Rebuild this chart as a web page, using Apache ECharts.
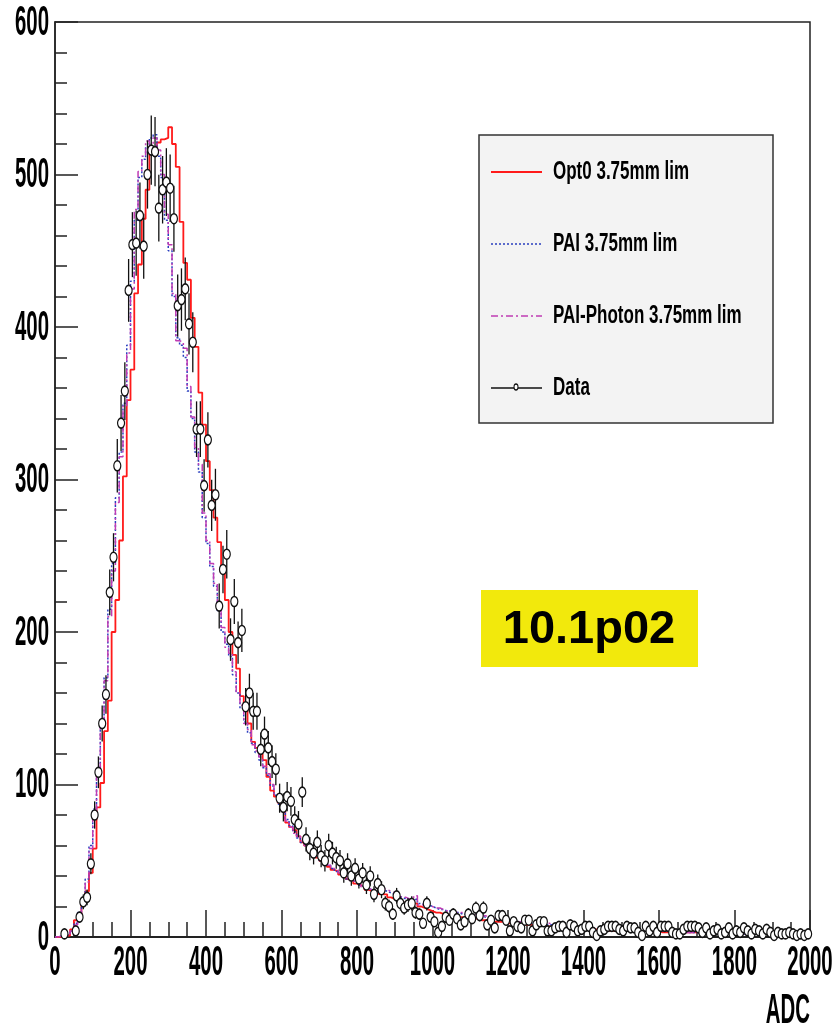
<!DOCTYPE html>
<html>
<head>
<meta charset="utf-8">
<script src="https://cdn.jsdelivr.net/npm/echarts@6/dist/echarts.min.js"></script>
<style>
    html, body { margin: 0; padding: 0; background: #fff; }
    #chart { width: 838px; height: 1028px; }
</style>
</head>
<body>
<div id="chart"></div>
<script>
// ADC histograms, 200 bins of 10 from 0 to 2000
const binWidth = 10;

const opt0 = [
    0, 0, 1, 1, 5, 11, 14, 22, 30, 42,
    58, 85, 101, 135, 155, 200, 221, 260, 302, 352,
    372, 422, 441, 471, 490, 514, 517, 521, 523, 524,
    531, 520, 505, 469, 442, 431, 406, 387, 357, 336,
    312, 293, 275, 259, 241, 221, 200, 185, 176, 158,
    150, 140, 128, 124, 120, 116, 105, 96, 92, 88,
    85, 75, 72, 70, 66, 62, 60, 57, 55, 52,
    50, 48, 46, 44, 43, 41, 40, 38, 37, 35,
    34, 33, 31, 30, 29, 28, 30, 28, 26, 25,
    24, 23, 22, 21, 20, 22, 20, 19, 18, 17,
    16, 16, 15, 15, 14, 14, 13, 13, 13, 12,
    12, 12, 11, 11, 11, 10, 10, 10, 10, 9,
    9, 9, 9, 9, 8, 8, 8, 8, 8, 7,
    7, 7, 6, 6, 6, 6, 6, 5, 5, 5,
    5, 5, 5, 5, 4, 4, 4, 4, 4, 4,
    4, 4, 4, 4, 4, 4, 4, 3, 3, 4,
    3, 3, 3, 3, 3, 3, 3, 3, 3, 3,
    3, 3, 3, 2, 3, 2, 2, 3, 2, 2,
    2, 2, 2, 2, 2, 2, 2, 2, 2, 2,
    2, 2, 1, 2, 2, 1, 2, 2, 1, 2
];

const pai = [
    0, 1, 1, 2, 4, 9, 16, 25, 38, 60,
    84, 110, 140, 170, 215, 245, 288, 318, 350, 388,
    430, 470, 498, 510, 518, 524, 526, 512, 498, 470,
    450, 420, 393, 388, 380, 358, 340, 318, 305, 275,
    258, 243, 230, 214, 200, 192, 184, 172, 160, 150,
    141, 134, 127, 121, 116, 111, 106, 99, 93, 87,
    83, 77, 73, 69, 65, 62, 60, 57, 55, 53,
    50, 48, 47, 45, 43, 42, 40, 38, 37, 36,
    34, 33, 32, 31, 30, 29, 31, 30, 29, 28,
    27, 26, 25, 25, 24, 25, 22, 21, 21, 20,
    19, 18, 18, 17, 17, 16, 16, 15, 15, 15,
    14, 14, 14, 13, 13, 12, 12, 11, 11, 11,
    11, 10, 10, 10, 9, 9, 9, 9, 9, 8,
    8, 8, 8, 7, 7, 7, 7, 6, 6, 6,
    6, 6, 5, 5, 5, 5, 5, 5, 5, 5,
    5, 4, 4, 4, 4, 4, 4, 4, 4, 4,
    4, 4, 4, 4, 3, 3, 3, 3, 3, 3,
    3, 3, 3, 3, 3, 3, 2, 2, 3, 2,
    2, 2, 2, 2, 2, 2, 2, 2, 2, 2,
    2, 2, 2, 1, 2, 2, 2, 1, 2, 2
];

const paiPhoton = [
    0, 1, 1, 2, 4, 8, 15, 24, 36, 58,
    81, 108, 138, 168, 210, 240, 285, 315, 348, 383,
    425, 477, 502, 512, 522, 520, 524, 516, 500, 474,
    454, 422, 391, 390, 386, 361, 341, 321, 310, 278,
    260, 245, 232, 215, 203, 190, 186, 174, 160, 152,
    140, 136, 126, 122, 118, 112, 107, 100, 94, 88,
    84, 76, 72, 68, 66, 63, 60, 58, 55, 53,
    51, 49, 47, 45, 44, 42, 40, 39, 37, 36,
    35, 33, 32, 31, 30, 29, 32, 31, 30, 29,
    27, 26, 26, 25, 25, 27, 21, 21, 21, 20,
    19, 19, 18, 17, 17, 16, 16, 16, 15, 15,
    15, 14, 14, 14, 13, 13, 12, 11, 11, 11,
    11, 10, 10, 10, 10, 9, 9, 9, 9, 9,
    9, 8, 8, 8, 7, 7, 7, 7, 6, 6,
    6, 6, 6, 5, 5, 5, 5, 5, 5, 5,
    5, 5, 4, 4, 4, 4, 4, 4, 4, 4,
    4, 4, 4, 4, 4, 4, 3, 3, 3, 3,
    3, 3, 3, 3, 3, 3, 3, 2, 3, 2,
    2, 2, 2, 2, 2, 2, 2, 2, 2, 2,
    2, 2, 2, 2, 1, 2, 2, 1, 2, 2
];

const dataCounts = [
    0, 0, 2, 0, 0, 4, 13, 23, 26, 48,
    80, 108, 140, 159, 226, 249, 309, 337, 358, 424,
    454, 455, 473, 453, 500, 516, 515, 478, 490, 495,
    491, 471, 414, 418, 425, 402, 390, 333, 333, 296,
    326, 283, 290, 217, 241, 251, 195, 220, 193, 201,
    151, 160, 148, 148, 123, 133, 124, 115, 110, 91,
    85, 92, 89, 77, 74, 95, 64, 58, 55, 62,
    53, 50, 60, 55, 52, 50, 42, 48, 40, 45,
    38, 42, 34, 40, 28, 35, 31, 22, 20, 15,
    27, 22, 19, 21, 22, 16, 15, 9, 22, 13,
    10, 3, 7, 13, 11, 15, 12, 8, 10, 15,
    12, 19, 14, 19, 8, 11, 6, 14, 14, 11,
    4, 10, 7, 6, 11, 11, 4, 8, 10, 10,
    4, 4, 6, 7, 7, 3, 8, 7, 4, 5,
    7, 7, 3, 1, 4, 5, 7, 7, 7, 5,
    4, 7, 6, 6, 3, 1, 7, 4, 7, 3,
    7, 7, 7, 3, 2, 2, 5, 7, 7, 7,
    6, 3, 6, 2, 4, 5, 2, 3, 6, 2,
    4, 3, 6, 4, 2, 5, 4, 2, 5, 3,
    1, 3, 2, 2, 3, 2, 1, 2, 1, 2
];

const xTicks = [0, 200, 400, 600, 800, 1000, 1200, 1400, 1600, 1800, 2000];
const yTicks = [0, 100, 200, 300, 400, 500, 600];
const legendNames = ['Opt0 3.75mm lim', 'PAI 3.75mm lim', 'PAI-Photon 3.75mm lim', 'Data'];
const xTitle = 'ADC';
const versionTag = '10.1p02';

const colors = { opt0: '#ff1a1a', pai: '#2a3fbf', paiPhoton: '#c03cb4', data: '#111111' };
const dashes = { opt0: 'solid', pai: [2, 2], paiPhoton: [7, 3, 2, 3] };

// histogram as step line: left bin edges + closing right edge
function toSteps(values) {
    const pts = values.map((v, i) => [i * binWidth, v]);
    pts.push([values.length * binWidth, values[values.length - 1]]);
    return pts;
}

const chart = echarts.init(document.getElementById('chart'));

const histSeries = (name, values, key, width) => ({
    name: name,
    type: 'line',
    step: 'end',
    data: toSteps(values),
    symbol: 'none',
    silent: true,
    lineStyle: { color: colors[key], width: width, type: dashes[key] },
    z: 2
});

const points = dataCounts.map((v, i) => [i * binWidth + binWidth / 2, v]).filter(p => p[1] > 0);

const option = {
    animation: false,
    backgroundColor: '#fff',
    grid: { left: 55, right: 28, top: 22, bottom: 91, show: true, borderColor: '#222', borderWidth: 1.5 },
    xAxis: {
        type: 'value', min: 0, max: 2000, interval: 200,
        axisLine: { show: true, onZero: false, lineStyle: { color: '#222', width: 2 } },
        axisTick: { show: true, inside: true, length: 27, lineStyle: { color: '#222', width: 1.5 } },
        minorTick: { show: true, splitNumber: 4, length: 15, lineStyle: { color: '#222', width: 1.5 } },
        axisLabel: { show: false },
        splitLine: { show: false }
    },
    yAxis: {
        type: 'value', min: 0, max: 600, interval: 100,
        axisLine: { show: true, lineStyle: { color: '#222', width: 1.5 } },
        axisTick: { show: true, inside: true, length: 23, lineStyle: { color: '#222', width: 1.5 } },
        minorTick: { show: true, splitNumber: 5, length: 12, lineStyle: { color: '#222', width: 1.5 } },
        axisLabel: { show: false },
        splitLine: { show: false }
    },
    series: [
        histSeries(legendNames[0], opt0, 'opt0', 1.8),
        histSeries(legendNames[1], pai, 'pai', 1.5),
        histSeries(legendNames[2], paiPhoton, 'paiPhoton', 1.5),
        {
            // Poisson error bars on the data points
            name: 'err',
            type: 'custom',
            data: points.map(p => [p[0], p[1] - Math.sqrt(p[1]), p[1] + Math.sqrt(p[1])]),
            encode: { x: 0, y: [1, 2] },
            silent: true,
            z: 3,
            renderItem: (params, api) => {
                const a = api.coord([api.value(0), api.value(1)]);
                const b = api.coord([api.value(0), api.value(2)]);
                return {
                    type: 'line',
                    shape: { x1: a[0], y1: a[1], x2: b[0], y2: b[1] },
                    style: { stroke: colors.data, lineWidth: 1.3 }
                };
            }
        },
        {
            name: legendNames[3],
            type: 'scatter',
            data: points,
            symbol: 'circle',
            symbolSize: [7, 10],
            silent: true,
            itemStyle: { color: '#fff', borderColor: colors.data, borderWidth: 1.4, opacity: 1 },
            z: 4
        }
    ]
};

chart.setOption(option);

// ROOT-style stretched labels, placed through the axis scales
const labelFont = { fontFamily: 'Liberation Sans', fontWeight: 'bold', fontSize: 30 };
const graphics = [];

xTicks.forEach(v => {
    const p = chart.convertToPixel({ gridIndex: 0 }, [v, 0]);
    graphics.push({
        type: 'text', x: p[0], y: 963, scaleX: 0.68, scaleY: 1.4,
        style: Object.assign({ text: String(v), fill: '#000', align: 'center', verticalAlign: 'middle' }, labelFont)
    });
});
yTicks.forEach(v => {
    const p = chart.convertToPixel({ gridIndex: 0 }, [0, v]);
    graphics.push({
        type: 'text', x: 49, y: p[1] + 1, scaleX: 0.68, scaleY: 1.4,
        style: Object.assign({ text: String(v), fill: '#000', align: 'right', verticalAlign: 'middle' }, labelFont)
    });
});
graphics.push({
    type: 'text', x: 810, y: 1011, scaleX: 0.68, scaleY: 1.4,
    style: Object.assign({ text: xTitle, fill: '#000', align: 'right', verticalAlign: 'middle' }, labelFont)
});

// legend box
graphics.push({
    type: 'rect', shape: { x: 479, y: 135, width: 294, height: 288 },
    style: { fill: '#f3f3f3', stroke: '#333', lineWidth: 1.5 }, z: 10
});
const legendKeys = ['opt0', 'pai', 'paiPhoton', 'data'];
legendKeys.forEach((key, i) => {
    const y = 172 + 72 * i;
    graphics.push({
        type: 'line', shape: { x1: 491, y1: y, x2: 542, y2: y },
        style: { stroke: colors[key], lineWidth: key === 'opt0' ? 2 : 1.5, lineDash: key === 'data' ? null : (dashes[key] === 'solid' ? null : dashes[key]) },
        z: 11
    });
    graphics.push({
        type: 'text', x: 553, y: y, scaleY: 1.48,
        style: { text: legendNames[i], fill: '#000', fontFamily: 'Liberation Sans', fontWeight: 'bold', fontSize: 17, align: 'left', verticalAlign: 'middle' },
        z: 11
    });
});
graphics.push({
    type: 'circle', x: 516, y: 387, scaleY: 1.5, shape: { cx: 0, cy: 0, r: 2 },
    style: { fill: '#fff', stroke: colors.data, lineWidth: 1 }, z: 12
});

// version tag
graphics.push({
    type: 'rect', shape: { x: 481, y: 590, width: 217, height: 77 },
    style: { fill: '#f2e90c' }, z: 10
});
graphics.push({
    type: 'text', x: 589, y: 630,
    style: { text: versionTag, fill: '#000', fontFamily: 'Liberation Sans', fontWeight: 'bold', fontSize: 47, align: 'center', verticalAlign: 'middle' },
    z: 11
});

chart.setOption({ graphic: graphics });
</script>
</body>
</html>
